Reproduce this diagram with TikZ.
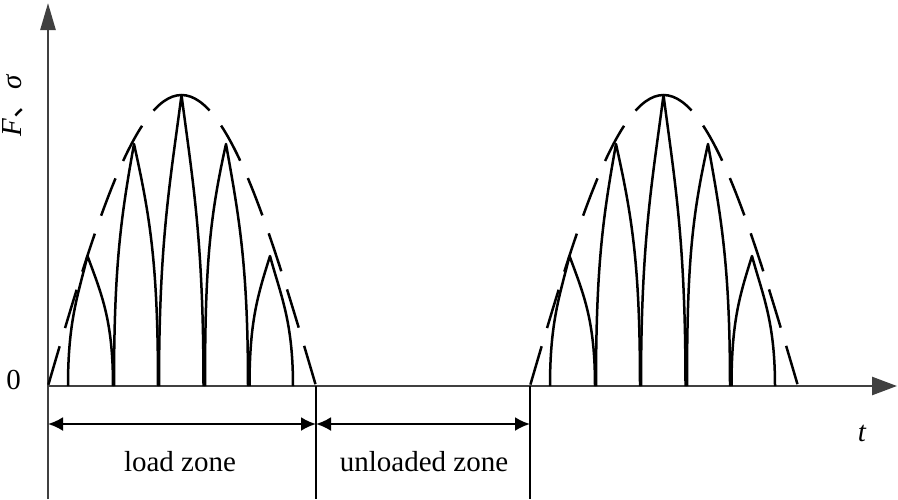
\documentclass[tikz,border=0pt]{standalone}
\usepackage{fontspec}
\setmainfont{Liberation Serif}
\newfontfamily\cjk{Noto Sans CJK SC}
\usetikzlibrary{arrows.meta}
\definecolor{axisgray}{HTML}{404040}
% #1 start, #2 peak x, #3 end, #4 peak y, #5 left slope, #6 right slope
\newcommand\drawpulse[6]{%
  \draw[pulse] (#1,386)
    .. controls (#1,{386-0.5*(386-#4)}) and ({#2-0.3*(386-#4)/#5},{#4+0.3*(386-#4)}) .. (#2,#4)
    .. controls ({#2+0.3*(386-#4)/#6},{#4+0.3*(386-#4)}) and (#3,{386-0.5*(386-#4)}) .. (#3,386);}
\newcommand\drawgroup{%
  \draw[env] (181.5,95) cos (48,386);
  \draw[env] (181.5,95) cos (316,386);
  \drawpulse{68}{87.5}{113}{256}{4.1}{2.7}
  \drawpulse{114}{134}{158}{144}{5.6}{4.5}
  \drawpulse{159}{181.5}{203.5}{95}{7.7}{7.7}
  \drawpulse{205}{226}{248}{144}{4.5}{5.6}
  \drawpulse{249.5}{270}{293}{256}{3.2}{3.7}}
\begin{document}
\begin{tikzpicture}[x=1pt,y=-1pt,
  axis/.style={draw=axisgray,line width=2.6pt},
  pulse/.style={draw=black,line width=2.5pt,line join=round},
  env/.style={draw=black,line width=2.5pt,dash pattern=on 40pt off 19pt,dash phase=7pt},
  edge/.style={draw=black,line width=2.3pt},
  dim/.style={draw=black,line width=2.3pt,{Latex[length=15pt,width=14pt]}-{Latex[length=15pt,width=14pt]}},
  lbl/.style={font=\fontsize{29}{33}\selectfont,inner sep=0pt}]
\useasboundingbox (0,0) rectangle (898,499);
% key points
\coordinate (ybot) at (48,499);
\coordinate (ytip) at (48,3);
\coordinate (origin) at (48,386);
\coordinate (xtip) at (897,386);
\coordinate (e1) at (316,386);
\coordinate (e1b) at (316,499);
\coordinate (s2) at (530,386);
\coordinate (s2b) at (530,499);
\coordinate (d0) at (48,424);
\coordinate (d1) at (316,424);
\coordinate (d2) at (530,424);
% axes
\draw[axis,-{Triangle[length=27pt,width=15pt]}] (ybot) -- (ytip);
\draw[axis,-{Triangle[length=25pt,width=18pt]}] (origin) -- (xtip);
% zone boundaries
\draw[edge] (e1) -- (e1b);
\draw[edge] (s2) -- (s2b);
% dimension arrows
\draw[dim] (d0) -- (d1);
\draw[dim] (d1) -- (d2);
% load cycles
\drawgroup
\begin{scope}[xshift=482pt]
\drawgroup
\end{scope}
% labels
\node[lbl] (zero) at (13.5,380) {0};
\node[lbl] (tlab) at (862,433) {\itshape t};
\node[lbl,rotate=90] (ylab) at (13,106) {\itshape F{\cjk 、}σ};
\node[lbl] (load) at (180,462) {load zone};
\node[lbl] (unload) at (424,462) {unloaded zone};
\end{tikzpicture}
\end{document}
